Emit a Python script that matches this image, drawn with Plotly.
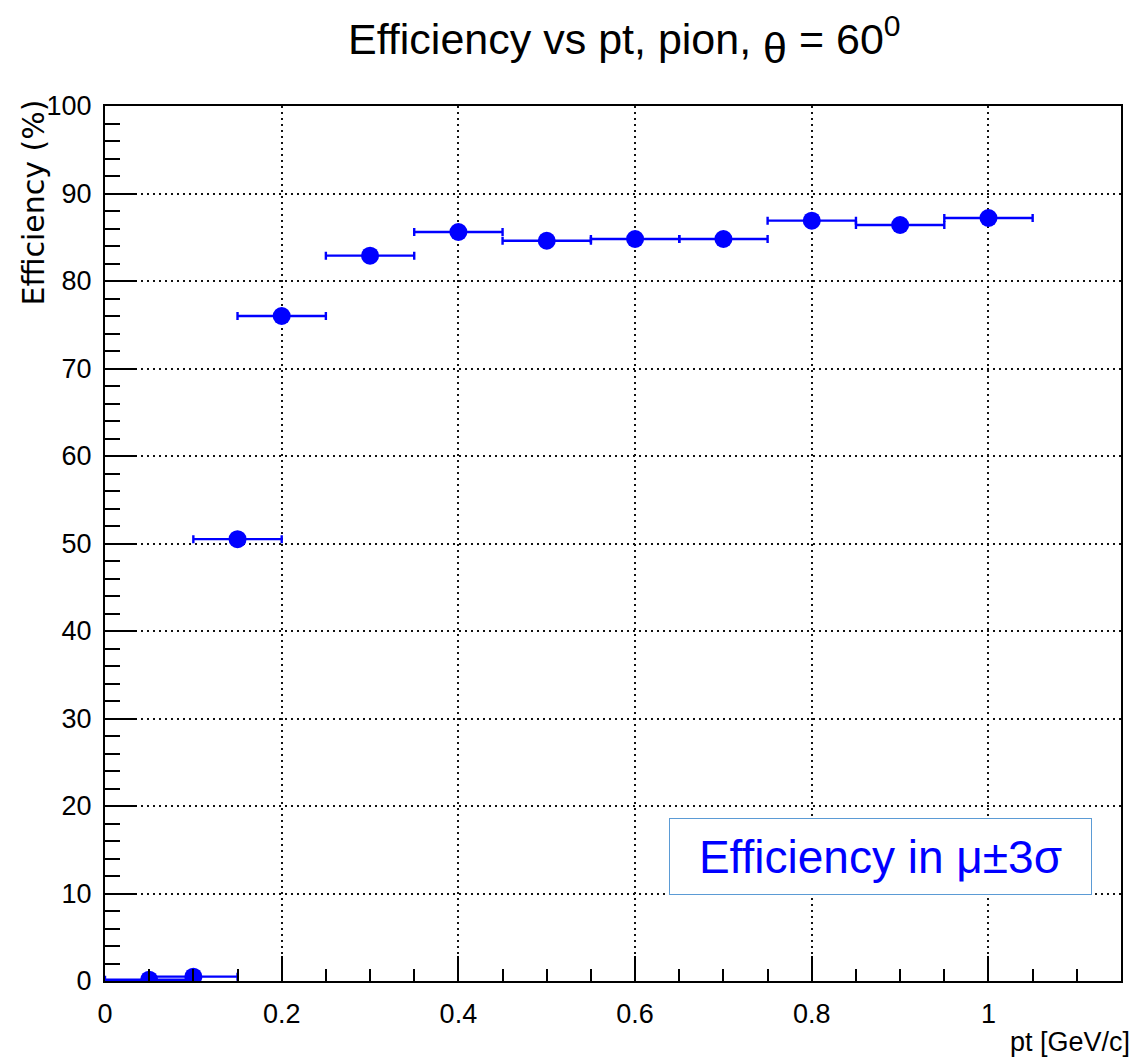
import plotly.graph_objects as go

# Efficiency per pt bin (pion, theta = 60 deg)
pt = [0.05, 0.10, 0.15, 0.20, 0.30, 0.40, 0.50, 0.60, 0.70, 0.80, 0.90, 1.00]
efficiency = [0.15, 0.5, 50.5, 76.0, 82.9, 85.6, 84.6, 84.8, 84.8, 86.9, 86.4, 87.2]
pt_halfwidth = [0.05, 0.05, 0.05, 0.05, 0.05, 0.05, 0.05, 0.05, 0.05, 0.05, 0.05, 0.05]

SANS = "Liberation Sans, Arial, sans-serif"
BLUE = "#0000FF"

fig = go.Figure()
fig.add_trace(go.Scatter(
    x=pt,
    y=efficiency,
    mode="markers",
    marker=dict(symbol="circle", size=18, color=BLUE, line=dict(width=0)),
    error_x=dict(type="data", array=pt_halfwidth, visible=True,
                 color=BLUE, thickness=2.4, width=4),
    showlegend=False,
))

axis_common = dict(
    showline=True, linecolor="black", linewidth=2, mirror=True,
    ticks="inside", tickcolor="black", tickwidth=2,
    showgrid=True, gridcolor="#111111", gridwidth=1.5, griddash="1.5px,4.5px",
    zeroline=False,
    tickfont=dict(family=SANS, size=27, color="black"),
)

fig.update_xaxes(
    range=[0, 1.15], dtick=0.2, tick0=0, ticklen=25,
    minor=dict(dtick=0.05, ticklen=12, tickwidth=2, tickcolor="black",
               ticks="inside", showgrid=False),
    ticklabelstandoff=8,
    **axis_common,
)
fig.update_yaxes(
    range=[0, 100], dtick=10, tick0=0, ticklen=32,
    minor=dict(dtick=2, ticklen=15, tickwidth=2, tickcolor="black",
               ticks="inside", showgrid=False),
    ticklabelstandoff=6,
    **axis_common,
)

annotations = [
    # main title; theta is lowered but kept at full size
    dict(text="Efficiency vs pt, pion, <sub><span style=\"font-size:43px\">θ</span></sub> = 60<sup>0</sup>",
         xref="paper", yref="paper", x=0.511, y=1.075,
         xanchor="center", yanchor="middle", showarrow=False,
         font=dict(family=SANS, size=43, color="black")),
    # y axis title, aligned to the top of the axis
    dict(text="Efficiency (%)", textangle=-90,
         xref="paper", yref="paper", x=-0.0707, y=1.01,
         xanchor="center", yanchor="top", showarrow=False,
         font=dict(family="DejaVu Sans, sans-serif", size=30, color="black")),
    # x axis title, aligned to the right end of the axis
    dict(text="pt [GeV/c]",
         xref="paper", yref="paper", x=1.011, y=-0.07,
         xanchor="right", yanchor="middle", showarrow=False,
         font=dict(family=SANS, size=27, color="black")),
    # selection window label
    dict(text="Efficiency in μ±3σ",
         xref="paper", yref="paper", x=0.7628, y=0.1423,
         xanchor="center", yanchor="middle", showarrow=False,
         width=421, height=75, align="center", valign="middle",
         bgcolor="white", bordercolor="#5B9BD5", borderwidth=1, borderpad=0,
         font=dict(family=SANS, size=46, color=BLUE)),
]

fig.update_layout(
    width=1132, height=1060,
    margin=dict(l=105, r=9, t=106, b=79),
    paper_bgcolor="white", plot_bgcolor="white",
    annotations=annotations,
)

fig.write_html("out.html")
